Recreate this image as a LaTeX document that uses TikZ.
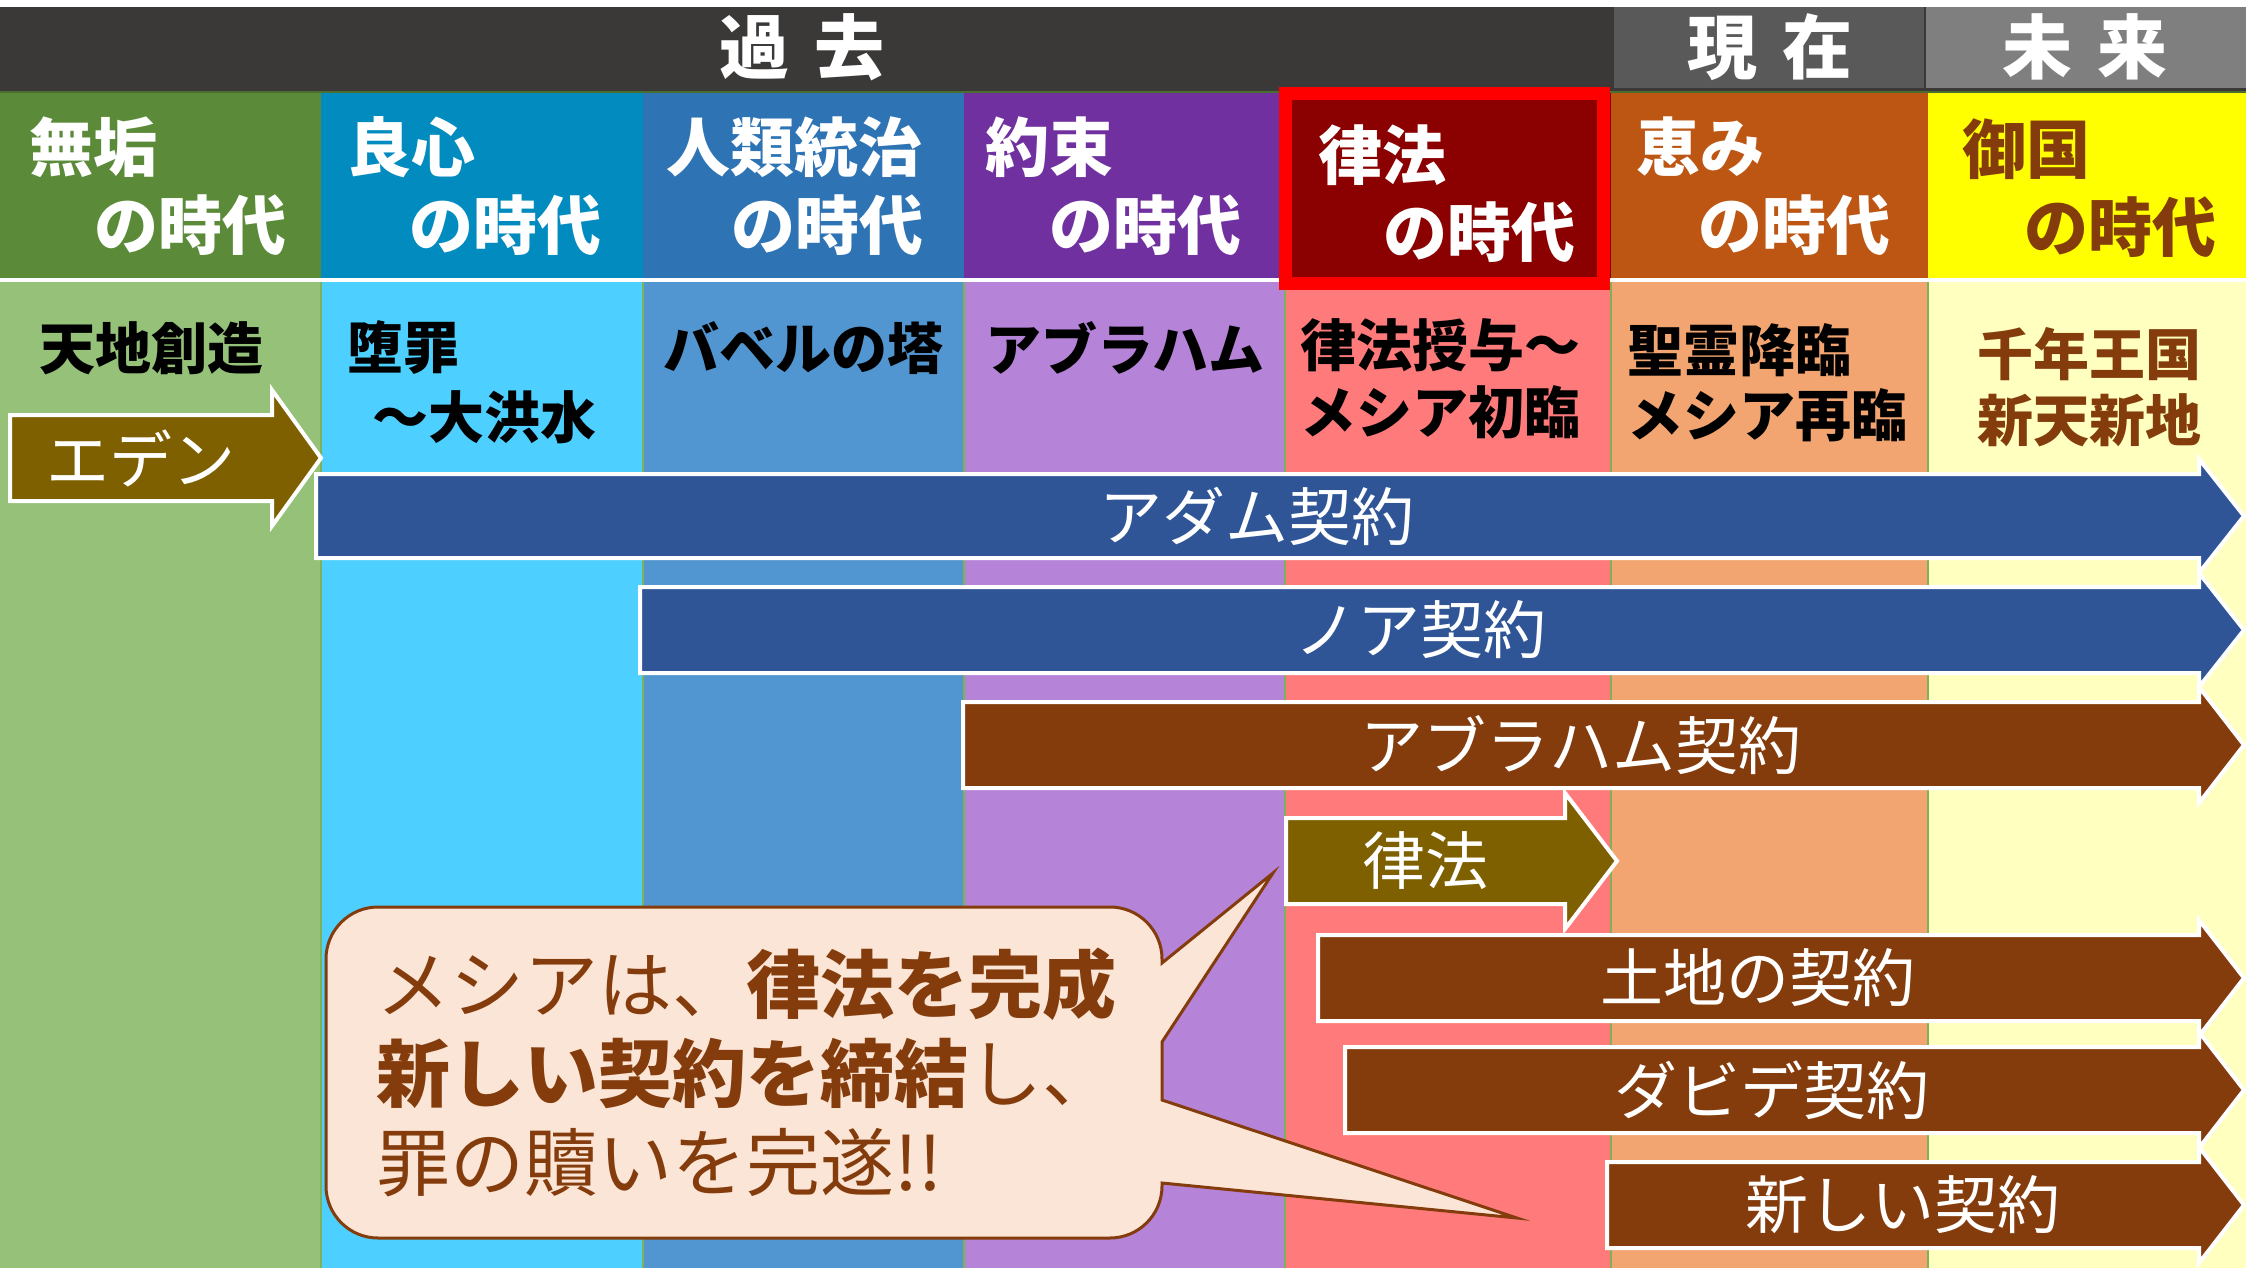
\documentclass[tikz,border=0pt]{standalone}
\usepackage{fontspec}
\setmainfont{Noto Sans CJK JP}
\definecolor{topdark}{HTML}{3A3937}
\definecolor{nowgray}{HTML}{595959}
\definecolor{futgray}{HTML}{7F7F7F}
\definecolor{hA}{HTML}{5B8A39}
\definecolor{hB}{HTML}{018BBF}
\definecolor{hC}{HTML}{2E74B5}
\definecolor{hD}{HTML}{7030A0}
\definecolor{hE}{HTML}{8B0000}
\definecolor{hF}{HTML}{BC5612}
\definecolor{hG}{HTML}{FFFF00}
\definecolor{lA}{HTML}{95C178}
\definecolor{lB}{HTML}{4DD0FF}
\definecolor{lC}{HTML}{5296D1}
\definecolor{lD}{HTML}{B584D9}
\definecolor{lE}{HTML}{FF7B7B}
\definecolor{lF}{HTML}{F2A570}
\definecolor{lG}{HTML}{FFFFC0}
\definecolor{sepgreen}{HTML}{7DB356}
\definecolor{boxred}{HTML}{FF0000}
\definecolor{olivebr}{HTML}{7F6000}
\definecolor{covblue}{HTML}{2F5597}
\definecolor{covbrown}{HTML}{843C0C}
\definecolor{calloutfill}{HTML}{FBE5D6}
\newcommand\blockarrow[7]{%
  \path[arrline, fill=#7] (#1,#2-#5) -- (#3,#2-#5) -- (#3,#2-#6) -- (#4,#2)
    -- (#3,#2+#6) -- (#3,#2+#5) -- (#1,#2+#5) -- cycle;}
\begin{document}
\begin{tikzpicture}[x=1pt,y=-1pt,
  toptxt/.style={inner sep=0pt, text=white, font=\fontsize{70}{70}\selectfont\bfseries},
  hdr/.style={inner sep=0pt, text=white, font=\fontsize{64}{64}\selectfont\bfseries},
  low/.style={inner sep=0pt, text=black, font=\fontsize{56}{56}\selectfont\bfseries},
  arrtxt/.style={inner sep=0pt, text=white, font=\fontsize{63}{63}\selectfont},
  arrline/.style={draw=white, line width=4pt, line join=miter},
  callout/.style={draw=covbrown, line width=3pt, fill=calloutfill, line join=miter},
  calltxt/.style={inner sep=0pt, text=covbrown, align=left, font=\fontsize{74}{89}\selectfont}]
\useasboundingbox (0,0) rectangle (2246,1268);
\fill[white] (0,0) rectangle (2246,1268);
% top bar
\fill[topdark] (0,7) rectangle (2246,92);
\fill[nowgray] (1614,7) rectangle (1924,88);
\fill[futgray] (1926,7) rectangle (2246,88);
\fill[hA!80!black] (0,91) rectangle (2246,93);
% header row
\fill[hA] (0,93) rectangle (321,278);
\fill[hB] (321,93) rectangle (643,278);
\fill[hC] (643,93) rectangle (964,278);
\fill[hD] (964,93) rectangle (1285,278);
\fill[hE] (1285,93) rectangle (1611,278);
\fill[hF] (1611,93) rectangle (1928,278);
\fill[hG] (1928,93) rectangle (2246,278);
% lower row
\fill[lA] (0,282) rectangle (321,1268);
\fill[lB] (321,282) rectangle (643,1268);
\fill[lC] (643,282) rectangle (964,1268);
\fill[lD] (964,282) rectangle (1285,1268);
\fill[lE] (1285,282) rectangle (1611,1268);
\fill[lF] (1611,282) rectangle (1928,1268);
\fill[lG] (1928,282) rectangle (2246,1268);
\foreach \sx in {321,643,964,1285,1611,1928}
  \draw[sepgreen, line width=1.5pt] (\sx,282) -- (\sx,1268);
% red highlight box
\fill[boxred] (1279,87) rectangle (1610,290);
\fill[hE] (1292,100) rectangle (1597,277);
% top labels
\node[toptxt] (past) at (802,47) {過\kern25pt去};
\node[toptxt] (now) at (1770,47) {現\kern25pt在};
\node[toptxt] (future) at (2085,47) {未\kern25pt来};
% header labels
\node[hdr, anchor=west] (h1a) at (29,147) {無垢};
\node[hdr, anchor=east] (h1b) at (287,225) {の時代};
\node[hdr, anchor=west] (h2a) at (347,147) {良心};
\node[hdr, anchor=east] (h2b) at (602,225) {の時代};
\node[hdr, anchor=west] (h3a) at (666,147) {人類統治};
\node[hdr, anchor=east] (h3b) at (924,225) {の時代};
\node[hdr, anchor=west] (h4a) at (985,147) {約束};
\node[hdr, anchor=east] (h4b) at (1242,225) {の時代};
\node[hdr, anchor=west] (h5a) at (1318,155) {律法};
\node[hdr, anchor=east] (h5b) at (1576,232) {の時代};
\node[hdr, anchor=west] (h6a) at (1636,147) {恵み};
\node[hdr, anchor=east] (h6b) at (1891,225) {の時代};
\node[hdr, anchor=west, text=covbrown] (h7a) at (1962,149) {御国};
\node[hdr, anchor=east, text=covbrown] (h7b) at (2217,227) {の時代};
% lower labels
\node[low, anchor=west] (l1) at (39,348) {天地創造};
\node[low, anchor=west] (l2a) at (347,348) {堕罪};
\node[low, anchor=west] (l2b) at (372,417) {〜大洪水};
\node[low, anchor=west] (l3) at (663,348) {バベルの塔};
\node[low, anchor=west] (l4) at (985,348) {アブラハム};
\node[low, anchor=west] (l5a) at (1300,345) {律法授与〜};
\node[low, anchor=west] (l5b) at (1300,412) {メシア初臨};
\node[low, anchor=west] (l6a) at (1627,350) {聖霊降臨};
\node[low, anchor=west] (l6b) at (1627,415) {メシア再臨};
\node[low, anchor=west, text=covbrown] (l7a) at (1977,354) {千年王国};
\node[low, anchor=west, text=covbrown] (l7b) at (1977,420) {新天新地};
% arrows
\blockarrow{10}{458}{272}{321}{43}{68}{olivebr}
\node[arrtxt] (eden) at (141,458) {エデン};
\blockarrow{316}{516}{2199}{2244}{42}{57}{covblue}
\node[arrtxt] (adam) at (1257,516) {アダム契約};
\blockarrow{640}{630}{2199}{2244}{43}{57}{covblue}
\node[arrtxt] (noah) at (1420,630) {ノア契約};
\blockarrow{963}{745}{2199}{2244}{43}{58}{covbrown}
\node[arrtxt] (abraham) at (1581,745) {アブラハム契約};
\blockarrow{1286}{861}{1565}{1617}{43}{68}{olivebr}
\node[arrtxt] (law) at (1425,861) {律法};
\blockarrow{1318}{978}{2199}{2244}{43}{58}{covbrown}
\node[arrtxt] (land) at (1758,978) {土地の契約};
\blockarrow{1345}{1090}{2199}{2244}{43}{58}{covbrown}
\node[arrtxt] (david) at (1772,1090) {ダビデ契約};
\blockarrow{1607}{1205}{2199}{2244}{43}{58}{covbrown}
\node[arrtxt] (newcov) at (1903,1205) {新しい契約};
% callout
\path[callout] (378,907) -- (1110,907)
  .. controls (1138.7,907) and (1162,930.3) .. (1162,959)
  -- (1162,963) -- (1273,873) -- (1162,1042)
  -- (1162,1100) -- (1517,1218) -- (1162,1183)
  -- (1162,1186) .. controls (1162,1214.7) and (1138.7,1238) .. (1110,1238)
  -- (378,1238) .. controls (349.3,1238) and (326,1214.7) .. (326,1186)
  -- (326,959) .. controls (326,930.3) and (349.3,907) .. (378,907) -- cycle;
\node[calltxt, anchor=west] (msg) at (376,1072)
  {メシアは、{\bfseries 律法を完成}\\{\bfseries 新しい契約を締結}し、\\罪の贖いを完遂!!};
\end{tikzpicture}
\end{document}
